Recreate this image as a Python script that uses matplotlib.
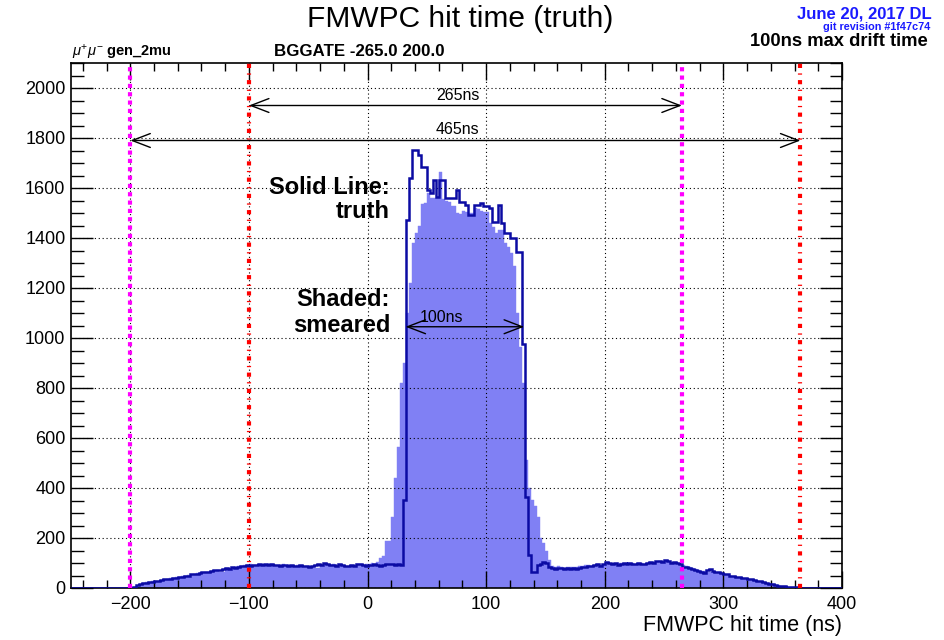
import numpy as np
import matplotlib
matplotlib.use('Agg')
import matplotlib.pyplot as plt
from matplotlib.ticker import MultipleLocator

plt.rcParams['font.family'] = ['Liberation Sans', 'DejaVu Sans']
plt.rcParams['mathtext.fontset'] = 'custom'
plt.rcParams['mathtext.rm'] = 'Liberation Sans'
plt.rcParams['mathtext.it'] = 'Liberation Sans:italic'

# binning: 260 bins of 2.5 ns from -250 to 400
bin_lo = -250.0
bin_hi = 400.0
n_bins = 260

# truth hit time counts, 10 bins (25 ns) per row
truth = [
    0, 0, 0, 0, 0, 0, 0, 0, 0, 0,                              # -250
    0, 0, 0, 0, 0, 0, 0, 0, 0, 0,                              # -225
    0, 5, 12, 18, 20, 22, 24, 26, 28, 28,                      # -200
    32, 35, 36, 38, 40, 42, 44, 46, 50, 48,                    # -175
    55, 55, 58, 62, 65, 66, 64, 68, 72, 74,                    # -150
    72, 78, 80, 78, 84, 82, 86, 90, 88, 92,                    # -125
    90, 94, 92, 95, 94, 96, 92, 95, 93, 92,                    # -100
    90, 94, 92, 90, 91, 88, 90, 92, 88, 90,                    # -75
    86, 90, 92, 98, 94, 100, 98, 92, 94, 90,                   # -50
    95, 92, 88, 90, 92, 90, 95, 98, 92, 90,                    # -25
    94, 92, 96, 93, 90, 92, 95, 95, 98, 94,                    # 0
    96, 92, 352, 1472, 1640, 1752, 1752, 1732, 1685, 1685,     # 25
    1592, 1580, 1632, 1565, 1632, 1632, 1560, 1560, 1560, 1560,  # 50
    1592, 1545, 1545, 1532, 1492, 1492, 1532, 1532, 1540, 1530,  # 75
    1530, 1520, 1465, 1465, 1532, 1460, 1420, 1420, 1400, 1400,  # 100
    1345, 1345, 975, 365, 132, 65, 65, 92, 95, 105,            # 125
    100, 85, 80, 78, 80, 82, 78, 80, 76, 80,                   # 150
    78, 82, 86, 85, 90, 88, 92, 95, 90, 98,                    # 175
    105, 100, 95, 100, 92, 98, 100, 96, 100, 98,               # 200
    95, 100, 98, 96, 100, 105, 102, 108, 110, 105,             # 225
    112, 108, 100, 104, 100, 95, 85, 85, 80, 75,               # 250
    72, 68, 65, 62, 72, 75, 70, 66, 64, 60,                    # 275
    56, 55, 50, 48, 45, 44, 42, 40, 38, 35,                    # 300
    33, 30, 28, 26, 22, 18, 16, 14, 10, 9,                     # 325
    8, 6, 5, 4, 3, 1, 0, 0, 0, 0,                              # 350
    0, 0, 0, 0, 0, 0, 0, 0, 0, 0,                              # 375
]

# smeared hit time counts
smeared = [
    0, 0, 0, 0, 0, 0, 0, 0, 0, 0,                              # -250
    0, 0, 0, 0, 0, 0, 0, 0, 0, 0,                              # -225
    0, 3, 10, 16, 20, 24, 26, 28, 30, 30,                      # -200
    30, 34, 38, 40, 42, 44, 44, 48, 50, 52,                    # -175
    54, 58, 60, 62, 60, 64, 66, 70, 70, 72,                    # -150
    64, 66, 80, 82, 82, 86, 88, 90, 92, 94,                    # -125
    96, 92, 94, 96, 92, 94, 98, 96, 92, 90,                    # -100
    92, 95, 90, 92, 88, 90, 92, 88, 86, 90,                    # -75
    88, 84, 80, 82, 88, 96, 92, 94, 96, 92,                    # -50
    92, 90, 90, 88, 94, 92, 96, 98, 94, 96,                    # -25
    95, 100, 95, 105, 120, 130, 190, 190, 285, 440,            # 0
    565, 820, 900, 1100, 1220, 1380, 1420, 1450, 1535, 1540,   # 25
    1580, 1560, 1560, 1560, 1665, 1555, 1550, 1545, 1530, 1530,  # 50
    1500, 1495, 1510, 1505, 1500, 1500, 1520, 1515, 1510, 1505,  # 75
    1505, 1460, 1445, 1420, 1432, 1432, 1380, 1365, 1340, 1290,  # 100
    1100, 965, 820, 512, 400, 352, 330, 285, 200, 180,         # 125
    150, 112, 90, 85, 88, 84, 82, 86, 84, 86,                  # 150
    84, 88, 90, 92, 92, 90, 94, 96, 94, 92,                    # 175
    95, 96, 92, 98, 100, 102, 96, 98, 100, 102,                # 200
    98, 102, 100, 96, 102, 104, 106, 104, 108, 110,            # 225
    108, 106, 104, 102, 100, 96, 92, 88, 84, 80,               # 250
    76, 72, 70, 68, 66, 66, 64, 62, 62, 60,                    # 275
    56, 52, 50, 46, 42, 42, 40, 38, 36, 34,                    # 300
    30, 28, 26, 24, 22, 20, 18, 14, 12, 10,                    # 325
    8, 6, 5, 4, 3, 2, 1, 0, 0, 0,                              # 350
    0, 0, 0, 0, 0, 0, 0, 0, 0, 0,                              # 375
]

# gate lines (ns)
magenta_lines = [-200, 265]
red_lines = [-100, 365]

# annotation arrows: (x_start, x_end, y, label)
arrows = [(-100, 265, 1930, '265ns'), (-200, 365, 1790, '465ns'), (32, 132, 1045, '100ns')]
arrow_label_pos = [(76, 1968), (76, 1832), (62, 1084)]


def main():
    edges = np.linspace(bin_lo, bin_hi, n_bins + 1)

    fig = plt.figure(figsize=(9.45, 6.4), dpi=100)
    ax = fig.add_axes([71 / 945, 1 - 588 / 640, (842 - 71) / 945, (588 - 63) / 640])

    ax.stairs(smeared, edges, fill=True, facecolor='#8080f4', edgecolor='#8080f4', lw=0.3, zorder=1)
    ax.stairs(truth, edges, color='#0b0ba3', lw=1.8, zorder=3)

    for x in magenta_lines:
        ax.axvline(x, color='#ff00ff', lw=3, linestyle=(0, (1, 1)), zorder=4)
    for x in red_lines:
        ax.axvline(x, color='#ff0000', lw=3, linestyle=(0, (1.0, 1.3, 0.3, 1.3)), zorder=4)

    for (x0, x1, y, lab), (tx, ty) in zip(arrows, arrow_label_pos):
        ax.annotate('', xy=(x1, y), xytext=(x0, y),
                    arrowprops=dict(arrowstyle='<->,head_length=1.3,head_width=0.5',
                                    color='black', lw=1.0, shrinkA=0, shrinkB=0),
                    zorder=5)
        ax.text(tx, ty, lab, ha='center', va='center', fontsize=11.5, zorder=5)

    ax.text(19, 1604, 'Solid Line:', ha='right', va='center', fontsize=17, fontweight='bold')
    ax.text(19, 1504, 'truth', ha='right', va='center', fontsize=17, fontweight='bold')
    ax.text(19, 1152, 'Shaded:', ha='right', va='center', fontsize=17, fontweight='bold')
    ax.text(19, 1052, 'smeared', ha='right', va='center', fontsize=17, fontweight='bold')

    ax.set_xlim(bin_lo, bin_hi)
    ax.set_ylim(0, 2100)
    ax.xaxis.set_major_locator(MultipleLocator(100))
    ax.xaxis.set_minor_locator(MultipleLocator(20))
    ax.yaxis.set_major_locator(MultipleLocator(200))
    ax.yaxis.set_minor_locator(MultipleLocator(50))
    ax.tick_params(which='both', direction='in', top=True, right=True, labelsize=13, width=1)
    ax.tick_params(axis='x', which='major', length=12, pad=6)
    ax.tick_params(axis='x', which='minor', length=6)
    ax.tick_params(axis='y', which='major', length=16, pad=4)
    ax.tick_params(axis='y', which='minor', length=9)
    ax.set_axisbelow(False)
    ax.grid(True, which='major', color='black', linestyle=(0, (1, 2.5)), lw=0.8)
    for s in ax.spines.values():
        s.set_linewidth(1.2)

    ax.set_xlabel('FMWPC hit time (ns)', fontsize=15.5, loc='right', labelpad=1)

    fig.text(460 / 945, 1 - 19 / 640, 'FMWPC hit time (truth)', ha='center', va='center', fontsize=21.5)
    fig.text(932 / 945, 1 - 14 / 640, 'June 20, 2017 DL', ha='right', va='center',
             fontsize=12, fontweight='bold', color='#1a1aff')
    fig.text(930 / 945, 1 - 27 / 640, 'git revision #1f47c74', ha='right', va='center',
             fontsize=7.8, fontweight='bold', color='#1a1aff')
    fig.text(928 / 945, 1 - 41 / 640, '100ns max drift time', ha='right', va='center',
             fontsize=13.2, fontweight='bold')
    fig.text(72 / 945, 1 - 52 / 640, r'$\mu^{+}\mu^{-}$ gen_2mu', ha='left', va='center',
             fontsize=10.5, fontweight='bold')
    fig.text(274 / 945, 1 - 52 / 640, 'BGGATE -265.0 200.0', ha='left', va='center',
             fontsize=12.2, fontweight='bold')

    fig.savefig('out.png', dpi=100)


if __name__ == '__main__':
    assert len(truth) == n_bins and len(smeared) == n_bins
    main()
